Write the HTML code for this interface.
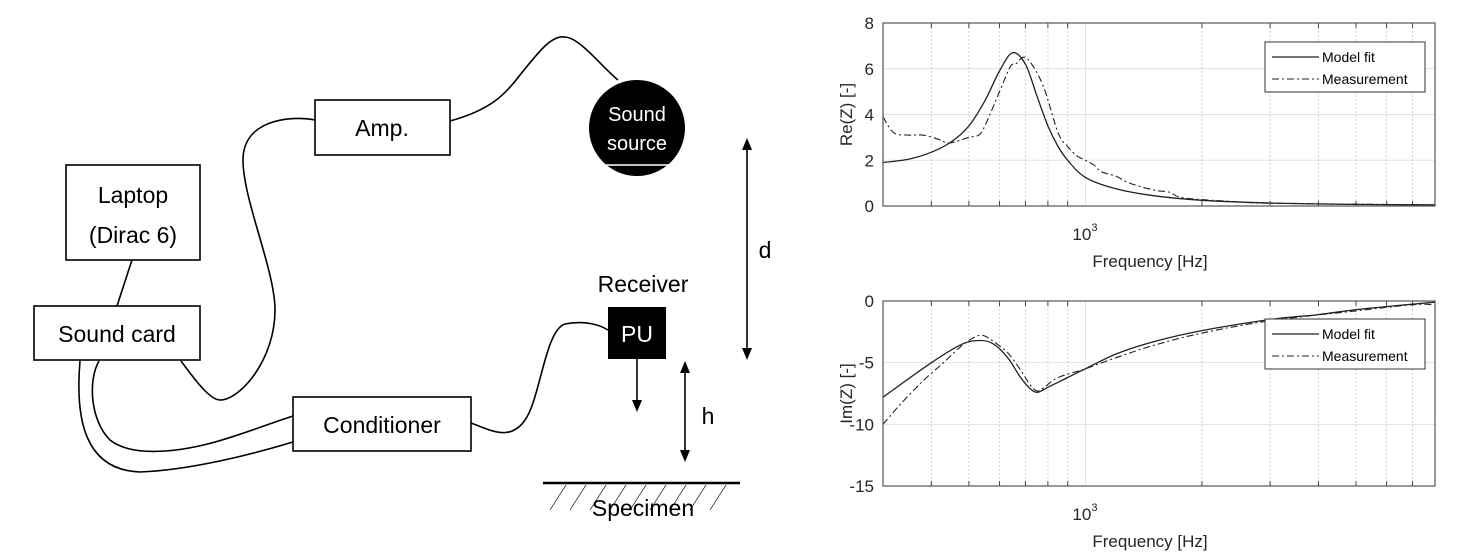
<!DOCTYPE html>
<html><head><meta charset="utf-8"><style>
html,body{margin:0;padding:0;background:#fff;}
svg{display:block;}
</style></head><body>
<svg id="s" width="1460" height="558" xmlns="http://www.w3.org/2000/svg" font-family="Liberation Sans, sans-serif">
<rect width="1460" height="558" fill="#fff"/>
<g fill="none" stroke="#000" stroke-width="1.6">
<rect x="66" y="165" width="134" height="95"/>
<rect x="315" y="100" width="135" height="55"/>
<rect x="34" y="306" width="166" height="54"/>
<rect x="293" y="397" width="178" height="54"/>
<line x1="132" y1="260" x2="117" y2="306"/>
<path d="M315,120 C290,115 243,120 243,160 C243,200 275,270 275,310 C275,360 240,400 220,400 C210,400 195,380 181,361"/>
<path d="M450,121 C490,110 505,95 520,75 C540,50 552,35 565,37 C580,38 600,65 618,80"/>
<path d="M80,361 C75,420 85,470 140,472 C190,470 250,455 293,442"/>
<path d="M99,361 C88,380 90,420 110,440 C125,452 150,452 165,451 C210,448 250,430 293,416"/>
<path d="M471,423 C490,430 510,442 525,420 C540,400 545,330 565,324 C585,320 600,325 608,330"/>
<line x1="747" y1="150" x2="747" y2="350"/>
<line x1="637" y1="359" x2="637" y2="402"/>
<line x1="685" y1="372" x2="685" y2="452"/>
</g>
<g fill="#000">
<polygon points="747,138 742,150 752,150"/>
<polygon points="747,360 742,348 752,348"/>
<polygon points="637,412 632,400 642,400"/>
<polygon points="685,361 680,373 690,373"/>
<polygon points="685,462 680,450 690,450"/>
<circle cx="637" cy="128" r="48"/>
<rect x="608" y="307" width="58" height="52"/>
</g>
<line x1="603" y1="165" x2="670" y2="165" stroke="#fff" stroke-width="1.5"/>
<line x1="543" y1="483" x2="740" y2="483" stroke="#000" stroke-width="2.5"/>
<g stroke="#333" stroke-width="0.8">
<line x1="566" y1="485" x2="550" y2="510"/><line x1="586" y1="485" x2="570" y2="510"/>
<line x1="606" y1="485" x2="590" y2="510"/><line x1="626" y1="485" x2="610" y2="510"/>
<line x1="646" y1="485" x2="630" y2="510"/><line x1="666" y1="485" x2="650" y2="510"/>
<line x1="686" y1="485" x2="670" y2="510"/><line x1="706" y1="485" x2="690" y2="510"/>
<line x1="726" y1="485" x2="710" y2="510"/>
</g>
<g font-family="Liberation Sans, DejaVu Sans, sans-serif" font-size="23" text-anchor="middle" fill="#000">
<text x="133" y="203">Laptop</text>
<text x="133" y="243">(Dirac 6)</text>
<text x="382" y="136">Amp.</text>
<text x="117" y="342">Sound card</text>
<text x="382" y="433">Conditioner</text>
<text x="643" y="292">Receiver</text>
<text x="765" y="258">d</text>
<text x="708" y="424">h</text>
<text x="643" y="516">Specimen</text>
<text x="637" y="121" fill="#fff" font-size="20">Sound</text>
<text x="637" y="150" fill="#fff" font-size="20">source</text>
<text x="637" y="342" fill="#fff">PU</text>
</g>
<g id="charts"></g>
</svg>
<script>
var NS="http://www.w3.org/2000/svg",g=document.getElementById("charts");
function el(t,a,txt){var e=document.createElementNS(NS,t);for(var k in a)e.setAttribute(k,a[k]);if(txt!==undefined)e.textContent=txt;g.appendChild(e);return e;}
var L=883,R=1435,K=387.1;
function X(f){return L+(Math.log10(f)-Math.log10(300))*K;}
function path(pts,Y){var p=pts.map(function(d){return [X(d[0]),Y(d[1])];});var s="M"+p[0][0].toFixed(1)+","+p[0][1].toFixed(1);
for(var i=0;i<p.length-1;i++){var p0=p[i-1]||p[i],p1=p[i],p2=p[i+1],p3=p[i+2]||p2;
var c1=[p1[0]+(p2[0]-p0[0])/6,p1[1]+(p2[1]-p0[1])/6],c2=[p2[0]-(p3[0]-p1[0])/6,p2[1]-(p3[1]-p1[1])/6];
s+=" C"+c1[0].toFixed(1)+","+c1[1].toFixed(1)+" "+c2[0].toFixed(1)+","+c2[1].toFixed(1)+" "+p2[0].toFixed(1)+","+p2[1].toFixed(1);}return s;}
function chart(T,B,vmin,vmax,ticks,ylab,model,meas,legY){
var Y=function(v){return B-(v-vmin)/(vmax-vmin)*(B-T);};
ticks.forEach(function(v){el("line",{x1:L,x2:R,y1:Y(v),y2:Y(v),stroke:"#e2e2e2","stroke-width":1});
el("text",{x:874,y:Y(v)+6,"text-anchor":"end","font-size":17,fill:"#262626"},String(v));});
[400,500,600,700,800,900,2000,3000,4000,5000,6000,7000].forEach(function(f){el("line",{x1:X(f),x2:X(f),y1:T,y2:B,stroke:"#d0d0d0","stroke-width":1,"stroke-dasharray":"2,2"});
el("line",{x1:X(f),x2:X(f),y1:B,y2:B-5,stroke:"#444"});el("line",{x1:X(f),x2:X(f),y1:T,y2:T+5,stroke:"#444"});});
el("line",{x1:X(1000),x2:X(1000),y1:T,y2:B,stroke:"#e2e2e2"});
el("path",{d:path(model,Y),fill:"none",stroke:"#222","stroke-width":1.3});
el("path",{d:path(meas,Y),fill:"none",stroke:"#222","stroke-width":1.1,"stroke-dasharray":"7,3,2,3"});
el("rect",{x:L,y:T,width:R-L,height:B-T,fill:"none",stroke:"#555","stroke-width":1.2});
el("rect",{x:1265,y:legY,width:160,height:50,fill:"#fff",stroke:"#333","stroke-width":1});
el("line",{x1:1272,x2:1319,y1:legY+15,y2:legY+15,stroke:"#222","stroke-width":1.3});
el("line",{x1:1272,x2:1319,y1:legY+37,y2:legY+37,stroke:"#222","stroke-width":1.1,"stroke-dasharray":"7,3,2,3"});
el("text",{x:1322,y:legY+20,"font-size":14,fill:"#000"},"Model fit");
el("text",{x:1322,y:legY+42,"font-size":14,fill:"#000"},"Measurement");
el("text",{x:X(1000)-13,y:B+34,"font-size":17,fill:"#262626"},"10");
el("text",{x:X(1000)+6,y:B+25,"font-size":11,fill:"#262626"},"3");
el("text",{x:1150,y:B+61,"font-size":17,"text-anchor":"middle",fill:"#262626"},"Frequency [Hz]");
el("text",{x:0,y:0,"font-size":17,"text-anchor":"middle",fill:"#262626",transform:"translate(852,"+((T+B)/2)+") rotate(-90)"},ylab);
}
chart(23,206,0,8,[0,2,4,6,8],"Re(Z) [-]",
[[300,1.9],[350,2.05],[400,2.35],[450,2.8],[500,3.5],[550,4.6],[600,5.9],[648,6.7],[700,6.2],[750,4.8],[800,3.5],[850,2.6],[900,2.0],[1000,1.25],[1200,0.75],[1500,0.45],[2000,0.25],[3000,0.13],[5000,0.07],[8000,0.05]],
[[300,3.9],[320,3.2],[350,3.1],[380,3.1],[420,2.9],[440,2.75],[470,2.85],[500,3.0],[530,3.1],[550,3.5],[600,5.0],[640,6.1],[660,6.2],[690,6.5],[720,6.3],[780,5.2],[850,3.2],[900,2.6],[950,2.2],[1000,2.0],[1050,1.8],[1100,1.5],[1200,1.3],[1300,1.0],[1500,0.7],[1650,0.6],[1800,0.35],[2500,0.18],[3000,0.12],[5000,0.08],[8000,0.05]],42);
chart(301,486,-15,0,[0,-5,-10,-15],"Im(Z) [-]",
[[300,-7.8],[400,-5.0],[480,-3.5],[536,-3.2],[580,-3.5],[630,-4.6],[680,-6.2],[720,-7.1],[752,-7.4],[800,-7.0],[900,-6.2],[1000,-5.5],[1200,-4.3],[1500,-3.3],[2000,-2.4],[3000,-1.5],[4000,-1.1],[5000,-0.7],[6500,-0.35],[8000,-0.1]],
[[300,-10.0],[330,-8.5],[380,-6.5],[430,-5.0],[480,-3.6],[520,-2.9],[545,-2.8],[580,-3.3],[630,-4.2],[680,-5.6],[720,-6.8],[752,-7.3],[790,-6.9],[850,-6.2],[1000,-5.5],[1200,-4.6],[1500,-3.6],[2000,-2.6],[3000,-1.6],[5000,-0.8],[7000,-0.3],[8000,-0.3]],319);
</script>
</body></html>
